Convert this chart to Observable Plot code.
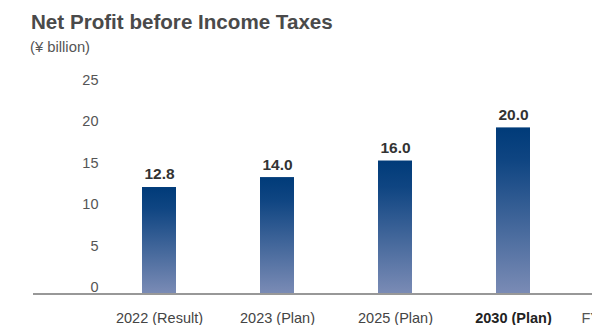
<!DOCTYPE html>
<html>
<head>
<meta charset="utf-8">
<script src="https://cdn.jsdelivr.net/npm/d3@7"></script>
<script src="https://cdn.jsdelivr.net/npm/@observablehq/plot@0.6"></script>
<style>
  html, body { margin: 0; padding: 0; background: #fff; overflow: hidden; }
  #wrap { position: relative; width: 592px; height: 325px; font-family: "Liberation Sans", Arial, sans-serif; }
  #head { position: relative; height: 60px; }
  #title { position: absolute; left: 31px; top: 11px; font-size: 20.6px; line-height: 22px; font-weight: bold; color: #4a4a4a; white-space: nowrap; }
  #sub { position: absolute; left: 30px; top: 40px; font-size: 14.8px; line-height: 15px; color: #555; white-space: nowrap; }
  svg { display: block; overflow: visible; }
</style>
</head>
<body>
<div id="wrap">
  <div id="head">
    <div id="title">Net Profit before Income Taxes</div>
    <div id="sub">(¥ billion)</div>
  </div>
  <div id="chart"></div>
</div>
<script>
const categories = ["2022 (Result)", "2023 (Plan)", "2025 (Plan)", "2030 (Plan)"];
const values = [12.8, 14.0, 16.0, 20.0];
const yTicks = [0, 5, 10, 15, 20, 25];
const boldCategory = "2030 (Plan)";
const unitLabel = "FY";

const data = categories.map((c, i) => ({category: c, value: values[i]}));

const plot = Plot.plot({
  width: 592,
  height: 265,
  marginTop: 26,
  marginBottom: 32,
  marginLeft: 33,
  marginRight: 0,
  style: {fontFamily: "'Liberation Sans', Arial, sans-serif", background: "transparent"},
  x: {domain: categories, range: [100, 572], paddingInner: 0.712, paddingOuter: 0.356, label: null},
  y: {domain: [0, 25], label: null},
  marks: [
    Plot.barY(data, {x: "category", y: "value", fill: "url(#barGrad)"}),
    Plot.text(data, {x: "category", y: "value", text: d => d.value.toFixed(1), dy: -13, fontSize: 15.5, fontWeight: "bold", fill: "#333"}),
    Plot.ruleY([0], {stroke: "#333", strokeWidth: 1.2, dy: 0.5}),
    Plot.axisY({ticks: yTicks, tickSize: 0, tickPadding: 0, dx: 65, lineAnchor: "bottom", dy: -1.5, fontSize: 14.5, fill: "#555", tickFormat: d => d}),
    Plot.axisX({tickSize: 0, tickPadding: 19, fontSize: 14.5, fill: "#444", lineAnchor: "top"}),
    Plot.text([unitLabel], {frameAnchor: "bottom-right", text: d => d, textAnchor: "start", lineAnchor: "top", dx: -11, dy: 19, fontSize: 14.5, fill: "#555"})
  ]
});

// gradient definition for bars
const svg = d3.select(plot);
const defs = svg.insert("defs", ":first-child");
const grad = defs.append("linearGradient").attr("id", "barGrad").attr("x1", 0).attr("y1", 0).attr("x2", 0).attr("y2", 1);
grad.append("stop").attr("offset", "0%").attr("stop-color", "#003b79");
grad.append("stop").attr("offset", "20%").attr("stop-color", "#0f4582");
grad.append("stop").attr("offset", "100%").attr("stop-color", "#7a8bb5");

// bold the final category label
svg.selectAll("[aria-label='x-axis tick label'] text").each(function() {
  if (this.textContent === boldCategory) {
    d3.select(this).attr("font-weight", "bold").attr("fill", "#222");
  }
});

document.getElementById("chart").appendChild(plot);
</script>
</body>
</html>
